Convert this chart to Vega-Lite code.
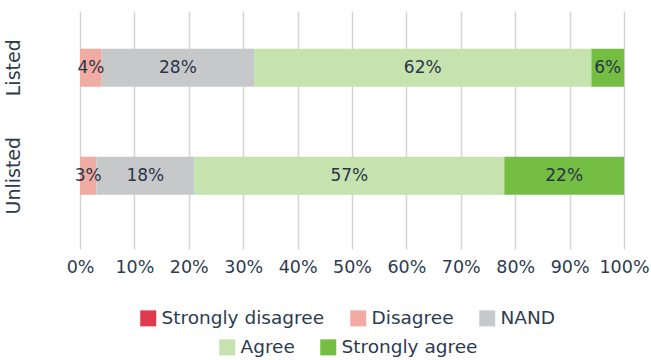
{
  "$schema": "https://vega.github.io/schema/vega-lite/v6.json",
  "width": 544,
  "height": 238,
  "autosize": {"type": "none"},
  "padding": {"left": 80, "top": 11, "right": 27, "bottom": 111},
  "config": {
    "font": "DejaVu Sans",
    "view": {"stroke": null},
    "axis": {"labelFont": "DejaVu Sans", "labelColor": "#2D3B4F", "labelFontSize": 17.5},
    "legend": {"labelFont": "DejaVu Sans", "labelColor": "#2D3B4F", "labelFontSize": 18.5, "labelLimit": 400}
  },
  "data": {
    "values": [
      {"group": "Listed", "response": "Strongly disagree", "order": 1, "value": 0},
      {"group": "Listed", "response": "Disagree", "order": 2, "value": 0.04},
      {"group": "Listed", "response": "NAND", "order": 3, "value": 0.28},
      {"group": "Listed", "response": "Agree", "order": 4, "value": 0.62},
      {"group": "Listed", "response": "Strongly agree", "order": 5, "value": 0.06},
      {"group": "Unlisted", "response": "Strongly disagree", "order": 1, "value": 0},
      {"group": "Unlisted", "response": "Disagree", "order": 2, "value": 0.03},
      {"group": "Unlisted", "response": "NAND", "order": 3, "value": 0.18},
      {"group": "Unlisted", "response": "Agree", "order": 4, "value": 0.57},
      {"group": "Unlisted", "response": "Strongly agree", "order": 5, "value": 0.22}
    ]
  },
  "transform": [
    {"stack": "value", "groupby": ["group"], "sort": [{"field": "order", "order": "ascending"}], "as": ["x0", "x1"]}
  ],
  "encoding": {
    "y": {
      "field": "group",
      "type": "nominal",
      "sort": ["Listed", "Unlisted"],
      "scale": {"paddingInner": 0.648, "paddingOuter": 0.426, "align": 0.41},
      "axis": {"title": null, "domain": false, "ticks": false, "grid": false, "labelAngle": -90, "labelPadding": 57, "labelFontSize": 19}
    }
  },
  "layer": [
    {
      "transform": [{"filter": "datum.order <= 3"}],
      "mark": {"type": "bar"},
      "encoding": {
        "x": {
          "field": "x0",
          "type": "quantitative",
          "scale": {"domain": [0, 1]},
          "axis": {
            "title": null,
            "values": [0, 0.1, 0.2, 0.3, 0.4, 0.5, 0.6, 0.7, 0.8, 0.9, 1],
            "format": ".0%",
            "labelOverlap": false,
            "labelFlush": false,
            "domain": false,
            "ticks": false,
            "grid": true,
            "gridColor": "#D4D4D4",
            "gridWidth": 1.5,
            "labelPadding": 9
          }
        },
        "x2": {"field": "x1"},
        "color": {
          "field": "response",
          "type": "nominal",
          "sort": ["Strongly disagree", "Disagree", "NAND"],
          "scale": {"domain": ["Strongly disagree", "Disagree", "NAND"], "range": ["#E03A4E", "#F0ACA2", "#C7C8CA"]},
          "legend": {
            "orient": "none",
            "legendX": 59,
            "legendY": 298,
            "direction": "horizontal",
            "title": null,
            "symbolType": "square",
            "symbolSize": 256,
            "symbolStrokeWidth": 0,
            "labelOffset": 4,
            "columnPadding": 24
          }
        }
      }
    },
    {
      "transform": [{"filter": "datum.order >= 4"}],
      "mark": {"type": "bar"},
      "encoding": {
        "x": {"field": "x0", "type": "quantitative"},
        "x2": {"field": "x1"},
        "color": {
          "field": "response",
          "type": "nominal",
          "sort": ["Agree", "Strongly agree"],
          "scale": {"domain": ["Agree", "Strongly agree"], "range": ["#C5E2AF", "#73BE43"]},
          "legend": {
            "orient": "none",
            "legendX": 138,
            "legendY": 327,
            "direction": "horizontal",
            "title": null,
            "symbolType": "square",
            "symbolSize": 256,
            "symbolStrokeWidth": 0,
            "labelOffset": 4,
            "columnPadding": 24
          }
        }
      }
    },
    {
      "transform": [
        {"filter": "datum.value > 0"},
        {"fold": ["x0", "x1"], "as": ["edge", "pos"]}
      ],
      "mark": {"type": "text", "fontSize": 17, "color": "#2A3547"},
      "encoding": {
        "x": {"aggregate": "mean", "field": "pos", "type": "quantitative"},
        "detail": {"field": "response", "type": "nominal"},
        "text": {"field": "value", "type": "quantitative", "format": ".0%"}
      }
    }
  ],
  "resolve": {"scale": {"color": "independent"}}
}
